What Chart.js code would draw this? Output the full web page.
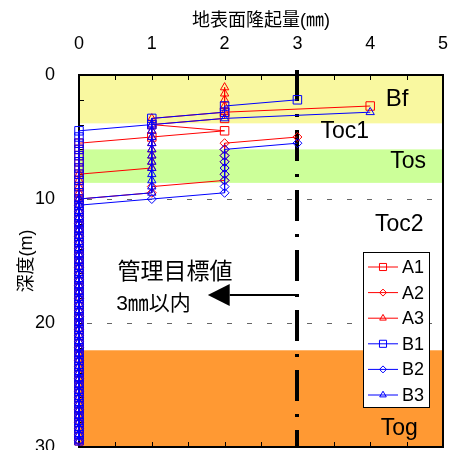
<!DOCTYPE html>
<html>
<head>
<meta charset="utf-8">
<script src="https://cdn.jsdelivr.net/npm/chart.js@4.4.0/dist/chart.umd.min.js"></script>
<style>
  html, body { margin: 0; padding: 0; background: #fff; }
</style>
</head>
<body>
<canvas id="chart" width="456" height="450"></canvas>
<script>
// 深度(m)
const depths = [
  0.5, 1, 1.5, 2, 2.5, 3, 3.5, 4, 4.5, 5,
  5.5, 6, 6.5, 7, 7.5, 8, 8.5, 9, 9.5, 10,
  10.5, 11, 11.5, 12, 12.5, 13, 13.5, 14, 14.5, 15,
  15.5, 16, 16.5, 17, 17.5, 18, 18.5, 19, 19.5, 20,
  20.5, 21, 21.5, 22, 22.5, 23, 23.5, 24, 24.5, 25,
  25.5, 26, 26.5, 27, 27.5, 28, 28.5, 29, 29.5,
];

// 地表面隆起量(mm) 各測線
const A1 = [
  null, null, null, null, 4, 2, 2, 1, 2, 1,
  0, 0, 0, 0, 0, 0, 0, 0, 0, 0,
  0, 0, 0, 0, 0, 0, 0, 0, 0, 0,
  0, 0, 0, 0, 0, 0, 0, 0, 0, 0,
  0, 0, 0, 0, 0, 0, 0, 0, 0, 0,
  0, 0, 0, 0, 0, 0, 0, 0, 0,
];
const A2 = [
  null, null, null, null, null, null, null, null, null, 3,
  2, 2, 2, 2, 2, 2, 2, 1, 1, 0,
  0, 0, 0, 0, 0, 0, 0, 0, 0, 0,
  0, 0, 0, 0, 0, 0, 0, 0, 0, 0,
  0, 0, 0, 0, 0, 0, 0, 0, 0, 0,
  0, 0, 0, 0, 0, 0, 0, 0, 0,
];
const A3 = [
  null, 2, 2, 2, 2, 2, 1, 1, 1, 1,
  1, 1, 1, 1, 1, 0, 0, 0, 0, 0,
  0, 0, 0, 0, 0, 0, 0, 0, 0, 0,
  0, 0, 0, 0, 0, 0, 0, 0, 0, 0,
  0, 0, 0, 0, 0, 0, 0, 0, 0, 0,
  0, 0, 0, 0, 0, 0, 0, 0, 0,
];
const B1 = [
  null, null, null, 3, 2, 2, 1, 1, 0, 0,
  0, 0, 0, 0, 0, 0, 0, 0, 0, 0,
  0, 0, 0, 0, 0, 0, 0, 0, 0, 0,
  0, 0, 0, 0, 0, 0, 0, 0, 0, 0,
  0, 0, 0, 0, 0, 0, 0, 0, 0, 0,
  0, 0, 0, 0, 0, 0, 0, 0, 0,
];
const B2 = [
  null, null, null, null, null, null, null, null, null, null,
  3, 2, 2, 2, 2, 2, 2, 2, 2, 1,
  0, 0, 0, 0, 0, 0, 0, 0, 0, 0,
  0, 0, 0, 0, 0, 0, 0, 0, 0, 0,
  0, 0, 0, 0, 0, 0, 0, 0, 0, 0,
  0, 0, 0, 0, 0, 0, 0, 0, 0,
];
const B3 = [
  null, null, null, null, null, 4, 2, 1, 1, 1,
  1, 1, 1, 1, 1, 1, 1, 1, 1, 0,
  0, 0, 0, 0, 0, 0, 0, 0, 0, 0,
  0, 0, 0, 0, 0, 0, 0, 0, 0, 0,
  0, 0, 0, 0, 0, 0, 0, 0, 0, 0,
  0, 0, 0, 0, 0, 0, 0, 0, 0,
];

const seriesNames = ["A1", "A2", "A3", "B1", "B2", "B3"];
const seriesValues = [A1, A2, A3, B1, B2, B3];

// 軸
const xTicks = [0, 1, 2, 3, 4, 5];
const yTicks = [0, 10, 20, 30];
const refDepths = [10, 20];
const limitValue = 3;

// 地層
const bandNames = ["Bf", "Tos", "Tog"];
const bandTop = [0, 6.0, 22.2];
const bandBottom = [3.9, 8.7, 30];
const layerNames = ["Bf", "Toc1", "Tos", "Toc2", "Tog"];

// 見た目
const FONT = "'Liberation Sans', 'Noto Sans CJK JP', sans-serif";
const bandColors = ["#f9f8a0", "#ccff99", "#ff9933"];
const seriesColors = ["#ff0000", "#ff0000", "#ff0000", "#0000ff", "#0000ff", "#0000ff"];
const seriesPoints = ["rect", "rectRot", "triangle", "rect", "rectRot", "triangle"];
const pointSizes = { rect: 6, rectRot: 4.5, triangle: 4.8 };
// ラベル位置 [x値, 深度, フォントサイズ]
const layerLabelPos = [[4.37, 2.0, 24], [3.65, 4.6, 23], [4.52, 7.0, 23], [4.4, 12.1, 23], [4.4, 28.5, 23]];

const datasets = seriesNames.map((name, i) => ({
  label: name,
  data: depths
    .map((d, k) => ({ x: seriesValues[i][k], y: d }))
    .filter((p) => p.x !== null),
  showLine: true,
  borderColor: seriesColors[i],
  backgroundColor: "rgba(0,0,0,0)",
  borderWidth: 1,
  pointStyle: seriesPoints[i],
  pointRadius: pointSizes[seriesPoints[i]],
  pointBorderWidth: 1,
  clip: false,
  order: i < 3 ? 1 : 0,
}));

const deco = {
  id: "deco",
  beforeDatasetsDraw(chart) {
    const { ctx, chartArea: a, scales } = chart;
    const x = scales.x, y = scales.y;
    ctx.save();

    // 地層の塗り
    bandNames.forEach((n, i) => {
      const y0 = y.getPixelForValue(bandTop[i]);
      const y1 = y.getPixelForValue(bandBottom[i]);
      ctx.fillStyle = bandColors[i];
      ctx.fillRect(a.left, y0, a.right - a.left, y1 - y0);
    });

    // 破線 (10m, 20m)
    ctx.strokeStyle = "#666";
    ctx.lineWidth = 1;
    ctx.setLineDash([5, 15]);
    refDepths.forEach((d) => {
      const py = Math.round(y.getPixelForValue(d)) + 0.5;
      ctx.beginPath();
      ctx.moveTo(a.left + 8, py);
      ctx.lineTo(a.right, py);
      ctx.stroke();
    });
    ctx.setLineDash([]);

    // 枠と目盛
    ctx.strokeStyle = "#000";
    ctx.lineWidth = 2;
    ctx.strokeRect(a.left, a.top, a.right - a.left, a.bottom - a.top);
    ctx.lineWidth = 1;
    ctx.beginPath();
    for (let v = 0.5; v < 5; v += 0.5) {
      const px = Math.round(x.getPixelForValue(v)) + 0.5;
      ctx.moveTo(px, a.top);
      ctx.lineTo(px, a.top + 5);
      ctx.moveTo(px, a.bottom);
      ctx.lineTo(px, a.bottom - 5);
    }
    for (let d = 2; d < 30; d += 2) {
      const py = Math.round(y.getPixelForValue(d)) + 0.5;
      ctx.moveTo(a.left, py);
      ctx.lineTo(a.left + 5, py);
    }
    ctx.stroke();

    // 地層名
    ctx.fillStyle = "#000";
    ctx.textAlign = "center";
    ctx.textBaseline = "middle";
    layerNames.forEach((n, i) => {
      const [lx, ld, fs] = layerLabelPos[i];
      ctx.font = fs + "px " + FONT;
      ctx.fillText(n, x.getPixelForValue(lx), y.getPixelForValue(ld));
    });

    // 管理値 3mm
    const lx = Math.round(x.getPixelForValue(limitValue));
    ctx.strokeStyle = "#000";
    ctx.lineWidth = 4;
    ctx.setLineDash([31, 13, 3, 13]);
    ctx.beginPath();
    ctx.moveTo(lx, a.top - 5);
    ctx.lineTo(lx, a.bottom);
    ctx.stroke();
    ctx.setLineDash([]);

    // 矢印と注記
    const ay = y.getPixelForValue(17.75);
    const tip = x.getPixelForValue(1.77);
    const base = x.getPixelForValue(2.07);
    ctx.lineWidth = 2;
    ctx.beginPath();
    ctx.moveTo(base, ay);
    ctx.lineTo(lx, ay);
    ctx.stroke();
    ctx.beginPath();
    ctx.moveTo(tip, ay);
    ctx.lineTo(base, ay - 11);
    ctx.lineTo(base, ay + 11);
    ctx.closePath();
    ctx.fill();

    ctx.textAlign = "left";
    ctx.font = "23px " + FONT;
    ctx.fillText("管理目標値", x.getPixelForValue(0.53), y.getPixelForValue(15.9));
    ctx.font = "21px " + FONT;
    ctx.fillText("3㎜以内", x.getPixelForValue(0.51), y.getPixelForValue(18.5));

    // 軸タイトル
    ctx.textAlign = "center";
    ctx.font = "18px " + FONT;
    ctx.fillText("地表面隆起量(㎜)", (a.left + a.right) / 2, 21);
    ctx.translate(27, (a.top + a.bottom) / 2);
    ctx.rotate(-Math.PI / 2);
    ctx.fillText("深度(m)", 0, 0);
    ctx.restore();
  },
  afterDatasetsDraw(chart) {
    const { ctx, chartArea: a } = chart;
    ctx.save();
    const bx = a.right - 80, by = a.top + 177, bw = 66, bh = 155;
    ctx.fillStyle = "#fff";
    ctx.fillRect(bx, by, bw, bh);
    ctx.strokeStyle = "#000";
    ctx.lineWidth = 1;
    ctx.strokeRect(bx + 0.5, by + 0.5, bw, bh);
    chart.data.datasets.forEach((ds, i) => {
      const ry = by + 15 + i * 25.6;
      ctx.strokeStyle = ds.borderColor;
      ctx.fillStyle = "rgba(0,0,0,0)";
      ctx.lineWidth = 1;
      ctx.beginPath();
      ctx.moveTo(bx + 5, ry);
      ctx.lineTo(bx + 35, ry);
      ctx.stroke();
      Chart.helpers.drawPoint(ctx, { pointStyle: ds.pointStyle, radius: ds.pointRadius - 1, borderWidth: 1, rotation: 0 }, bx + 20, ry);
      ctx.fillStyle = "#000";
      ctx.font = "18px " + FONT;
      ctx.textAlign = "left";
      ctx.textBaseline = "middle";
      ctx.fillText(ds.label, bx + 39, ry + 1);
    });
    ctx.restore();
  },
};

new Chart(document.getElementById("chart"), {
  type: "scatter",
  data: { datasets },
  options: {
    responsive: false,
    devicePixelRatio: 1,
    animation: false,
    layout: { autoPadding: false, padding: { left: 0, top: 0, right: 13, bottom: 3 } },
    plugins: {
      legend: { display: false },
      tooltip: { enabled: false },
    },
    scales: {
      x: {
        type: "linear",
        position: "top",
        min: 0,
        max: 5,
        afterBuildTicks: (s) => { s.ticks = xTicks.map((v) => ({ value: v })); },
        ticks: { color: "#000", font: { size: 18, family: FONT }, padding: 12 },
        grid: { display: false },
        border: { display: false },
        afterFit: (s) => { s.height = 75; s.paddingLeft = 0; s.paddingRight = 0; },
      },
      y: {
        type: "linear",
        reverse: true,
        min: 0,
        max: 30,
        afterBuildTicks: (s) => { s.ticks = yTicks.map((v) => ({ value: v })); },
        ticks: { color: "#000", font: { size: 18, family: FONT }, padding: 16 },
        grid: { display: false },
        border: { display: false },
        afterFit: (s) => { s.width = 79; s.paddingTop = 0; s.paddingBottom = 0; },
      },
    },
  },
  plugins: [deco],
});
</script>
</body>
</html>
